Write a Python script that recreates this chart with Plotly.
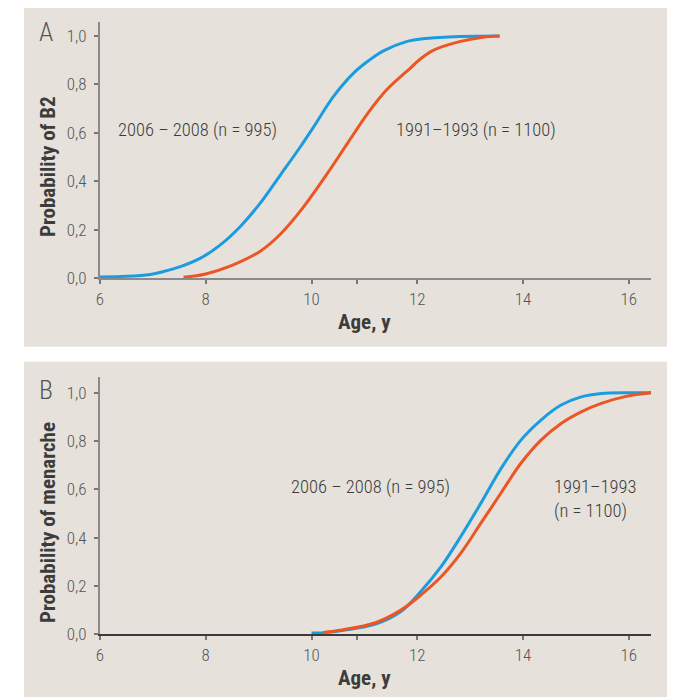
import plotly.graph_objects as go

# ---- data ----
b2_age_2006 = [6.0, 6.5, 6.95, 7.2, 7.52, 7.9, 8.27, 8.65, 9.03, 9.41, 9.79, 10.04, 10.42, 10.8, 11.09, 11.35, 11.78, 12.16, 12.8, 13.55]
b2_prob_2006 = [0.005, 0.008, 0.016, 0.028, 0.048, 0.083, 0.137, 0.213, 0.31, 0.426, 0.543, 0.625, 0.752, 0.848, 0.9, 0.938, 0.976, 0.99, 0.998, 1.0]

b2_age_1991 = [7.58, 8.0, 8.46, 9.03, 9.41, 9.85, 10.3, 10.68, 11.06, 11.43, 11.88, 12.03, 12.29, 12.8, 13.24, 13.56]
b2_prob_1991 = [0.004, 0.018, 0.05, 0.112, 0.182, 0.295, 0.433, 0.557, 0.68, 0.78, 0.87, 0.9, 0.94, 0.977, 0.995, 1.0]

men_age_2006 = [10.0, 10.3, 10.58, 11.21, 11.69, 12.07, 12.45, 12.82, 13.2, 13.58, 13.96, 14.34, 14.72, 15.1, 15.48, 16.0, 16.43]
men_prob_2006 = [0.005, 0.008, 0.016, 0.042, 0.094, 0.178, 0.28, 0.404, 0.542, 0.685, 0.804, 0.887, 0.949, 0.983, 0.997, 1.0, 1.0]

men_age_1991 = [10.22, 10.58, 11.21, 11.69, 12.07, 12.45, 12.82, 13.2, 13.58, 13.96, 14.34, 14.72, 15.1, 15.48, 15.95, 16.43]
men_prob_1991 = [0.008, 0.018, 0.048, 0.1, 0.163, 0.238, 0.335, 0.459, 0.584, 0.708, 0.804, 0.873, 0.921, 0.956, 0.985, 1.0]

x_ticks = [6, 8, 10, 10.86, 12, 14, 16]
x_ticktext = ["6", "8", "10", "", "12", "14", "16"]
y_ticks = [0, 0.2, 0.4, 0.6, 0.8, 1.0]

label_new = "2006 – 2008 (n = 995)"
label_old = "1991–1993 (n = 1100)"
label_old_wrapped = "1991–1993<br>(n = 1100)"

BLUE = "#1b9ce0"
ORANGE = "#ec5524"
BG = "#e6e2db"
FONT = "Roboto Condensed, DejaVu Sans Condensed, sans-serif"
TXT = "#3c3c3c"

W, H = 684, 697
OFF = 8  # page body margin

fig = go.Figure()

fig.add_trace(go.Scatter(x=b2_age_2006, y=b2_prob_2006, mode="lines",
                         line=dict(color=BLUE, width=3, shape="spline"),
                         xaxis="x", yaxis="y", showlegend=False))
fig.add_trace(go.Scatter(x=b2_age_1991, y=b2_prob_1991, mode="lines",
                         line=dict(color=ORANGE, width=3, shape="spline"),
                         xaxis="x", yaxis="y", showlegend=False))
fig.add_trace(go.Scatter(x=men_age_2006, y=men_prob_2006, mode="lines",
                         line=dict(color=BLUE, width=3, shape="spline"),
                         xaxis="x2", yaxis="y2", showlegend=False))
fig.add_trace(go.Scatter(x=men_age_1991, y=men_prob_1991, mode="lines",
                         line=dict(color=ORANGE, width=3, shape="spline"),
                         xaxis="x2", yaxis="y2", showlegend=False))

def px(xp):
    return (xp - OFF) / W

def py(yp):
    return 1 - (yp - OFF) / H

xdom = [px(100), px(651)]

tickfont = dict(family=FONT, size=17, color="#555555", weight=300)

common_x = dict(range=[6, 16.42], tickmode="array", tickvals=x_ticks, ticktext=x_ticktext,
                showgrid=False, zeroline=False, showline=True, linewidth=2,
                ticks="outside", ticklen=4, tickwidth=1.5, tickcolor="#777777",
                tickfont=tickfont, domain=xdom, automargin=False,
                fixedrange=True)
common_y = dict(tickmode="array", tickvals=y_ticks, tickformat=".1f",
                showgrid=False, zeroline=False, showline=True, linewidth=2, linecolor="#8a8a8a",
                ticks="outside", ticklen=4, tickwidth=1.5, tickcolor="#777777",
                ticklabelstandoff=4,
                tickfont=tickfont, automargin=False, fixedrange=True)

fig.update_layout(
    template="none",
    width=W, height=H,
    margin=dict(l=0, r=0, t=0, b=0, autoexpand=False),
    paper_bgcolor="white",
    plot_bgcolor="rgba(0,0,0,0)",
    separators=", ",
    xaxis=dict(**common_x, anchor="y", linecolor="#8a8a8a"),
    yaxis=dict(**common_y, range=[0, 1.06], domain=[py(278.3), py(21.5)], anchor="x"),
    xaxis2=dict(**common_x, anchor="y2", linecolor="#3a3a3a"),
    yaxis2=dict(**common_y, range=[0, 1.066], domain=[py(634.3), py(376.8)], anchor="x2"),
    shapes=[
        dict(type="rect", xref="paper", yref="paper", x0=px(24), x1=px(667), y0=py(346.7), y1=py(6),
             fillcolor=BG, line=dict(width=0), layer="below"),
        dict(type="rect", xref="paper", yref="paper", x0=px(24), x1=px(667), y0=py(705), y1=py(361.7),
             fillcolor=BG, line=dict(width=0), layer="below"),
    ],
)

def pann(text, x, y, size, weight=None, color=TXT, angle=0):
    f = dict(family=FONT, size=size, color=color)
    if weight:
        f["weight"] = weight
    return dict(text=text, x=px(x), y=py(y), xref="paper", yref="paper", showarrow=False,
                xanchor="center", yanchor="middle", textangle=angle, font=f)

ann = []
# panel letters
ann.append(pann("A", 46, 32, 26, weight=300, color="#555555"))
ann.append(pann("B", 46, 390, 26, weight=300, color="#555555"))
# axis titles
ann.append(pann("<b>Probability of B2</b>", 48, 167, 21, angle=-90))
ann.append(pann("<b>Probability of menarche</b>", 48, 523, 21, angle=-90))
ann.append(pann("<b>Age, y</b>", 364, 322, 21))
ann.append(pann("<b>Age, y</b>", 364, 678, 21))
# series labels
lab_font = dict(family=FONT, size=18.5, color=TXT, weight=300)
ann.append(dict(text=label_new, x=7.84, y=0.612, xref="x", yref="y", showarrow=False,
                xanchor="center", yanchor="middle", font=lab_font))
ann.append(dict(text=label_old, x=13.11, y=0.612, xref="x", yref="y", showarrow=False,
                xanchor="center", yanchor="middle", font=lab_font))
ann.append(dict(text=label_new, x=11.11, y=0.61, xref="x2", yref="y2", showarrow=False,
                xanchor="center", yanchor="middle", font=lab_font))
ann.append(dict(text=label_old_wrapped, x=14.55, y=0.56, xref="x2", yref="y2", showarrow=False,
                xanchor="left", yanchor="middle", align="left", font=lab_font))
fig.update_layout(annotations=ann)

fig.write_html("out.html")
